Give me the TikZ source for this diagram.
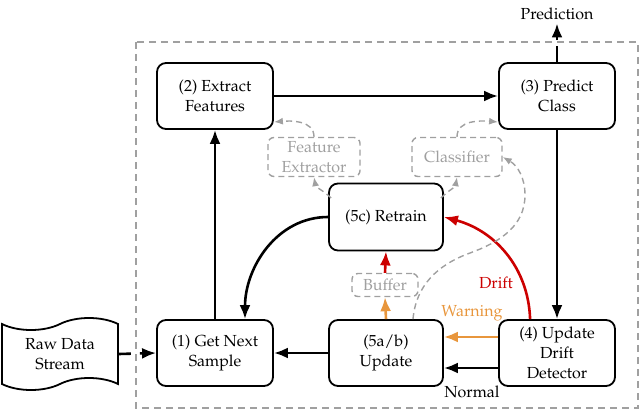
\documentclass[tikz,border=0pt]{standalone}
\usepackage[T1]{fontenc}
\usepackage{mathpazo}
\usetikzlibrary{arrows.meta,shapes.symbols,calc}
\definecolor{dred}{RGB}{204,0,0}
\definecolor{orng}{RGB}{232,150,60}
\definecolor{gry}{RGB}{160,160,160}
\newcommand\myfs{\fontsize{16}{20}\selectfont}
\tikzset{
  box/.style={draw, line width=1.8pt, rounded corners=9pt, minimum width=116pt, minimum height=66pt, align=center, inner sep=2pt},
  gbox/.style={draw=gry, dash pattern=on 6pt off 4pt, line width=1.4pt, rounded corners=6pt, text=gry, align=center, inner sep=2pt},
  arr/.style={line width=2.6pt, -{Latex[length=14pt,width=11pt]}},
  garr/.style={draw=gry, line width=1.4pt, dash pattern=on 6pt off 4pt, -{Latex[length=9pt,width=7pt]}}
}
\begin{document}
\begin{tikzpicture}[x=1pt,y=1pt,font=\myfs]
\useasboundingbox (0,0) rectangle (640,-412);
\draw[gry, line width=1.4pt, dash pattern=on 7pt off 5pt] (136,-42) rectangle (638,-408);

\node[box] (n2) at (215,-96) {(2) Extract\\Features};
\node[box] (n3) at (557,-96) {(3) Predict\\Class};
\node[box, minimum width=114pt, minimum height=67pt] (n5c) at (386,-217) {(5c) Retrain};
\node[box] (n1) at (215,-353) {(1) Get Next\\Sample};
\node[box, minimum width=114pt] (n5ab) at (386,-353) {(5a/b)\\Update};
\node[box] (n4) at (557,-353) {(4) Update\\Drift\\Detector};
\node[draw, tape, line width=1.8pt, minimum width=116pt, minimum height=72pt, tape bend height=12pt, align=center] (raw) at (60,-354) {Raw Data\\Stream};
\node (pred) at (557,-14) {Prediction};

\node[gbox, minimum width=92pt, minimum height=39pt] (fe) at (314,-157) {Feature\\Extractor};
\node[gbox, minimum width=90pt, minimum height=39pt] (cl) at (457,-157) {Classifier};
\node[gbox, minimum width=66pt, minimum height=23pt] (buf) at (385,-285) {Buffer};

\draw[arr, dash pattern=on 12pt off 9pt] (raw.east) -- (n1.west);
\draw[arr] (n1.north) -- (n2.south);
\draw[arr] (n2) -- (n3);
\draw[arr] (n3) -- (n4);
\draw[arr, dash pattern=on 16pt off 6pt] (n3.north) -- (pred.south);
\draw[arr] (n5ab) -- (n1);
\draw[arr] ($(n4.west)+(0,-15)$) -- ($(n5ab.east)+(0,-15)$);
\draw[arr, orng] ($(n4.west)+(0,16)$) -- ($(n5ab.east)+(0,16)$);
\node[orng] (warn) at (472,-313) {Warning};
\node (norm) at (472,-392) {Normal};
\draw[arr, dred] ($(n4.north west)+(32,0)$) to[out=92,in=-15] (n5c.east);
\node[dred] (drift) at (496,-283) {Drift};
\draw[arr, orng] (n5ab.north) -- (buf.south);
\draw[arr, dred] (buf.north) -- (n5c.south);
\draw[arr] (n5c.west) to[out=180,in=90] ($(n1.north)+(30,0)$);

\draw[garr] ($(n5c.west)+(3,19)$) to[out=135,in=-80] (fe.south);
\draw[garr] ($(n5c.east)+(-3,19)$) to[out=45,in=-100] (cl.south);
\draw[garr] (fe.north) to[out=90,in=5] ($(n2.east)+(0,-26)$);
\draw[garr] (cl.north) to[out=90,in=175] ($(n3.west)+(0,-26)$);
\draw[garr] ($(n5ab.north)+(27,0)$) to[out=85,in=200] (470,-253) to[out=20,in=-90] (525,-195) to[out=90,in=-30] (cl.east);
\end{tikzpicture}
\end{document}
